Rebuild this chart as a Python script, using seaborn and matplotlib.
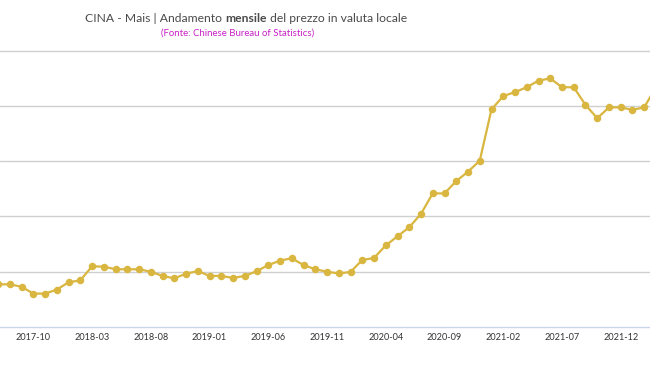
import matplotlib
matplotlib.use("Agg")
import matplotlib.pyplot as plt
import seaborn as sns
import pandas as pd
import numpy as np

months = pd.period_range("2017-07", "2022-03", freq="M").strftime("%Y-%m").tolist()
prices = [1693, 1693, 1682, 1651, 1651, 1669, 1702, 1711, 1774, 1773,
          1761, 1761, 1761, 1750, 1731, 1720, 1741, 1753, 1731, 1731,
          1722, 1731, 1752, 1780, 1800, 1811, 1780, 1761, 1750, 1742,
          1749, 1803, 1812, 1869, 1910, 1951, 2012, 2104, 2104, 2160,
          2202, 2252, 2484, 2544, 2562, 2584, 2614, 2624, 2584, 2584,
          2504, 2444, 2493, 2493, 2482, 2493, 2585]
tick_labels = ["2017-10", "2018-03", "2018-08", "2019-01", "2019-06", "2019-11",
               "2020-04", "2020-09", "2021-02", "2021-07", "2021-12"]
title_parts = ["CINA - Mais | Andamento ", "mensile", " del prezzo in valuta locale"]
subtitle = "(Fonte: Chinese Bureau of Statistics)"

df = pd.DataFrame({"idx": np.arange(len(months)), "mese": months, "prezzo": prices})

sns.set_theme(style="white")
plt.rcParams["font.family"] = ["Lato", "DejaVu Sans"]

W, H = 650, 366
fig = plt.figure(figsize=(W / 100, H / 100), dpi=100)
ax = fig.add_axes([0, (H - 327) / H, 1, (327 - 45) / H])

line_color = "#D9B63F"
sns.lineplot(data=df, x="idx", y="prezzo", ax=ax, color=line_color, linewidth=1.6,
             marker="o", markersize=5.4, markeredgewidth=0, clip_on=True)

ax.set_xlim(0.166, 55.49)
ax.set_ylim(1500, 2775)
ax.set_yticks([1750, 2000, 2250, 2500, 2750])
ax.yaxis.grid(True, color="#cfcfcf", linewidth=1)
ax.xaxis.grid(False)
ax.set_yticklabels([])
ax.tick_params(axis="y", length=0)

tick_pos = [months.index(t) for t in tick_labels]
ax.set_xticks(tick_pos)
ax.set_xticklabels(tick_labels, fontsize=6.6, color="#333333")
ax.tick_params(axis="x", length=0, pad=4.5)
ax.set_xticks([p + 0.5 for p in tick_pos], minor=True)
ax.tick_params(axis="x", which="minor", length=4, color="#ccd6eb", width=1)
ax.set_xlabel("")
ax.set_ylabel("")
for s in ["top", "left", "right"]:
    ax.spines[s].set_visible(False)
ax.spines["bottom"].set_color("#ccd6eb")
ax.spines["bottom"].set_linewidth(1)

# title with bold word
fig.canvas.draw()
renderer = fig.canvas.get_renderer()
tsize = 8.7
weights = ["normal", "bold", "normal"]
texts = []
for part, w in zip(title_parts, weights):
    t = fig.text(0, 0, part, fontsize=tsize, fontweight=w, color="#4a4a4a",
                 ha="left", va="center")
    texts.append(t)
widths = [t.get_window_extent(renderer).width for t in texts]
total = sum(widths)
x0 = 246 - total / 2
yt = 1 - 18 / H
for t, w in zip(texts, widths):
    t.set_position((x0 / W, yt))
    x0 += w

fig.text(238 / W, 1 - 33 / H, subtitle, fontsize=6.9, color="#C71FC7",
         ha="center", va="center")

fig.savefig("out.png", dpi=100)
